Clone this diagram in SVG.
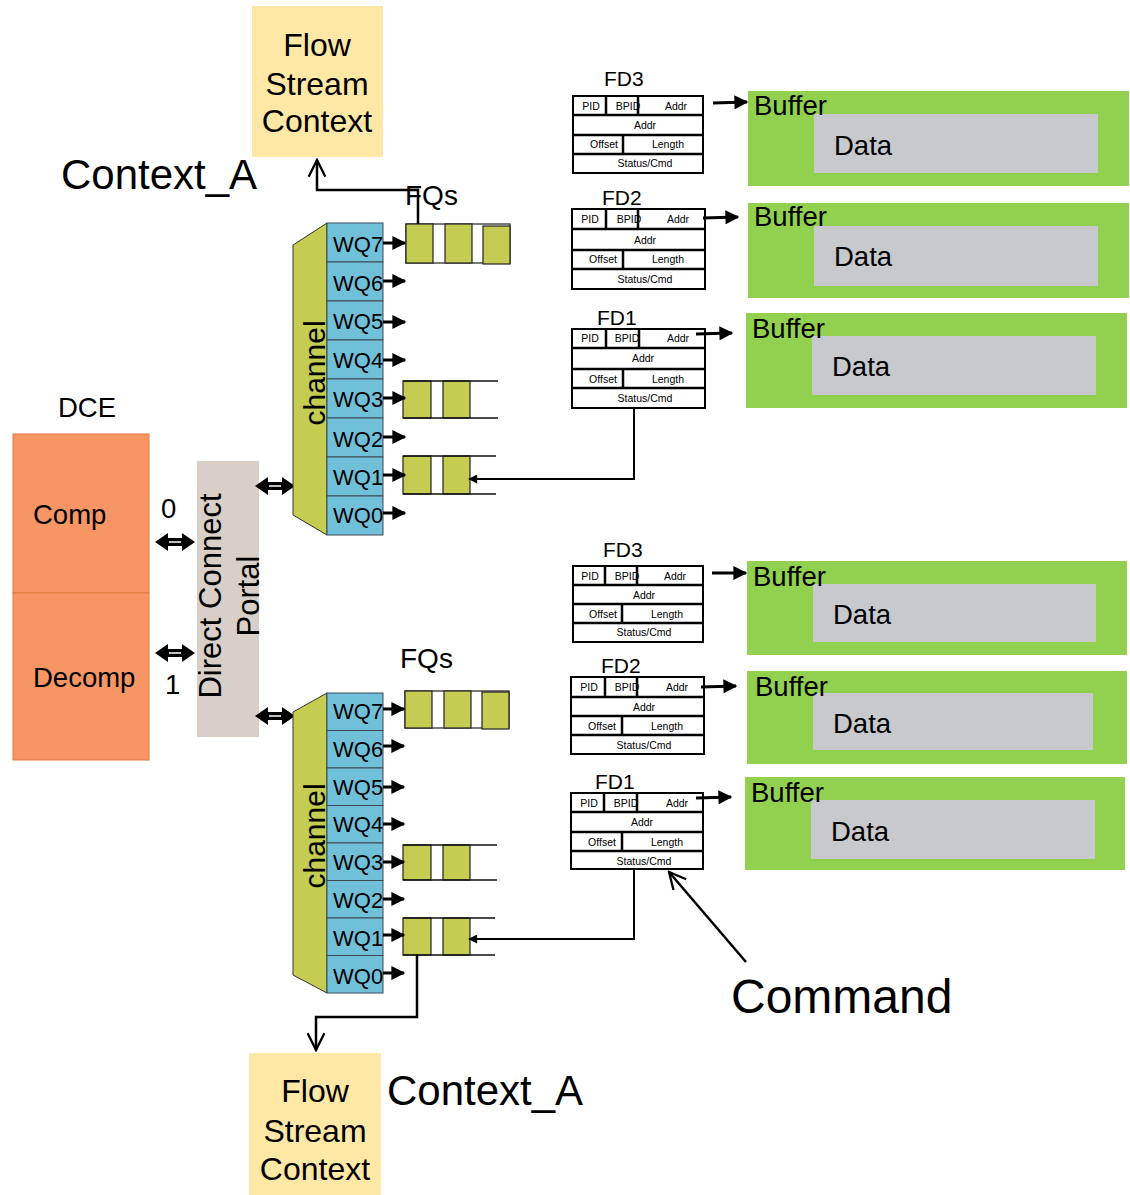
<svg xmlns="http://www.w3.org/2000/svg" width="1130" height="1195" viewBox="0 0 1130 1195">
<defs>
<style>
text{font-family:"Liberation Sans",Arial,sans-serif;fill:#000}
.ctx{fill:#FFE8A6}
.ctxt{font-size:32px;text-anchor:middle}
.big{font-size:42px}
.lbl{font-size:27.5px}
.wq{fill:#70C0DA;stroke:#3a4a55;stroke-width:1}
.wqt{font-size:22px}
.chan{fill:#C4CC52;stroke:#333;stroke-width:1}
.olive{fill:#C4CC52;stroke:#222;stroke-width:1.2}
.ql{fill:none;stroke:#111;stroke-width:1.5}
.tbl{fill:#fff;stroke:#000;stroke-width:2}
.div{stroke:#000;stroke-width:2.5}
.tt{font-size:10.5px;text-anchor:middle}
.fd{font-size:21px}
.buf{fill:#92D050}
.data{fill:#C8C9CD}
.line{fill:none;stroke:#000;stroke-width:3}
</style>
<marker id="ah" viewBox="0 0 10 10" refX="9" refY="5" markerWidth="15" markerHeight="14" markerUnits="userSpaceOnUse" orient="auto">
<path d="M0,0 L10,5 L0,10 z" fill="#000"/>
</marker>
<marker id="ahs" viewBox="0 0 10 10" refX="9" refY="5" markerWidth="12" markerHeight="9" markerUnits="userSpaceOnUse" orient="auto">
<path d="M0,0 L10,5 L0,10 z" fill="#000"/>
</marker>
<marker id="open" viewBox="0 0 12 12" refX="11" refY="6" markerWidth="20" markerHeight="20" markerUnits="userSpaceOnUse" orient="auto">
<path d="M1,1 L11,6 L1,11" fill="none" stroke="#000" stroke-width="1.4"/>
</marker>
<g id="dbl">
<path d="M0,0 L13,-9 L13,-4 L27,-4 L27,-9 L40,0 L27,9 L27,4 L13,4 L13,9 z" fill="#000"/>
<line x1="14" y1="0" x2="26" y2="0" stroke="#fff" stroke-width="1.5"/>
</g>
</defs>

<!-- Top Flow Stream Context -->
<g id="ctx-top">
<rect class="ctx" x="252" y="6" width="131" height="151"/>
<text class="ctxt" x="317" y="56">Flow</text>
<text class="ctxt" x="317" y="95">Stream</text>
<text class="ctxt" x="317" y="132">Context</text>
</g>
<text class="big" x="61" y="189">Context_A</text>

<!-- Bottom Flow Stream Context -->
<g id="ctx-bot">
<rect class="ctx" x="249" y="1053" width="132" height="142"/>
<text class="ctxt" x="315" y="1102">Flow</text>
<text class="ctxt" x="315" y="1142">Stream</text>
<text class="ctxt" x="315" y="1180">Context</text>
</g>
<text class="big" x="387" y="1105">Context_A</text>

<!-- DCE -->
<g id="dce">
<text class="lbl" x="58" y="417">DCE</text>
<rect x="13" y="434" width="136" height="159" fill="#F79664" stroke="#E07A40" stroke-width="1"/>
<rect x="13" y="593" width="136" height="167" fill="#F79664" stroke="#E07A40" stroke-width="1"/>
<text class="lbl" x="33" y="524">Comp</text>
<text class="lbl" x="33" y="687">Decomp</text>
</g>
<text class="lbl" x="161" y="518">0</text>
<text class="lbl" x="165" y="694">1</text>

<!-- Portal -->
<g id="portal">
<rect x="197" y="461" width="62" height="276" fill="#D8D0C8"/>
<text text-anchor="middle" transform="translate(221,596) rotate(-90)" style="font-size:31px">Direct Connect</text>
<text text-anchor="middle" transform="translate(259,596) rotate(-90)" style="font-size:31px">Portal</text>
</g>

<!-- double arrows -->
<g id="dblarrows">
<use href="#dbl" x="155" y="542"/>
<use href="#dbl" x="155" y="653"/>
<use href="#dbl" x="255" y="486"/>
<use href="#dbl" x="255" y="716"/>
</g>

<!-- Top channel -->
<g id="channel-top">
<polygon class="chan" points="293,245 327,223 327,535 293,515"/>
<text style="font-size:30px" text-anchor="middle" transform="translate(325,373) rotate(-90)">channel</text>
<rect class="wq" x="327" y="223" width="56" height="39"/>
<rect class="wq" x="327" y="262" width="56" height="39"/>
<rect class="wq" x="327" y="301" width="56" height="39"/>
<rect class="wq" x="327" y="340" width="56" height="39"/>
<rect class="wq" x="327" y="379" width="56" height="39"/>
<rect class="wq" x="327" y="418" width="56" height="39"/>
<rect class="wq" x="327" y="457" width="56" height="39"/>
<rect class="wq" x="327" y="496" width="56" height="39"/>
<text class="wqt" x="333" y="252">WQ7</text>
<text class="wqt" x="333" y="291">WQ6</text>
<text class="wqt" x="333" y="329">WQ5</text>
<text class="wqt" x="333" y="368">WQ4</text>
<text class="wqt" x="333" y="407">WQ3</text>
<text class="wqt" x="333" y="447">WQ2</text>
<text class="wqt" x="333" y="485">WQ1</text>
<text class="wqt" x="333" y="523">WQ0</text>
</g>

<!-- Bottom channel -->
<g id="channel-bot">
<polygon class="chan" points="293,712 327,693 327,993 293,975"/>
<text style="font-size:30px" text-anchor="middle" transform="translate(325,836) rotate(-90)">channel</text>
<rect class="wq" x="327" y="693" width="56" height="37.5"/>
<rect class="wq" x="327" y="730.5" width="56" height="37.5"/>
<rect class="wq" x="327" y="768" width="56" height="37.5"/>
<rect class="wq" x="327" y="805.5" width="56" height="37.5"/>
<rect class="wq" x="327" y="843" width="56" height="37.5"/>
<rect class="wq" x="327" y="880.5" width="56" height="37.5"/>
<rect class="wq" x="327" y="918" width="56" height="37.5"/>
<rect class="wq" x="327" y="955.5" width="56" height="37.5"/>
<text class="wqt" x="333" y="719">WQ7</text>
<text class="wqt" x="333" y="757">WQ6</text>
<text class="wqt" x="333" y="795">WQ5</text>
<text class="wqt" x="333" y="832">WQ4</text>
<text class="wqt" x="333" y="870">WQ3</text>
<text class="wqt" x="333" y="908">WQ2</text>
<text class="wqt" x="333" y="946">WQ1</text>
<text class="wqt" x="333" y="984">WQ0</text>
</g>

<text class="lbl" x="405" y="205" style="font-size:28px">FQs</text>
<text class="lbl" x="400" y="668" style="font-size:28px">FQs</text>

<!-- Frame queues top -->
<g id="fq-top7">
<rect x="406" y="224" width="104" height="39" fill="#fff" stroke="#222" stroke-width="1.2"/>
<rect class="olive" x="406" y="224" width="27" height="39"/>
<rect class="olive" x="445" y="224" width="27" height="39"/>
<rect class="olive" x="483" y="226" width="27" height="38"/>
</g>
<g id="fq-top3">
<rect class="olive" x="403" y="381" width="28" height="37"/>
<rect class="olive" x="443" y="381" width="27" height="37"/>
<path class="ql" d="M403,381 H498 M403,418 H498"/>
</g>
<g id="fq-top1">
<rect class="olive" x="403" y="456" width="28" height="38"/>
<rect class="olive" x="443" y="456" width="27" height="38"/>
<path class="ql" d="M403,456 H496 M403,494 H496"/>
</g>

<!-- Frame queues bottom -->
<g id="fq-bot7">
<rect x="405" y="691" width="104" height="37" fill="#fff" stroke="#222" stroke-width="1.2"/>
<rect class="olive" x="405" y="691" width="27" height="37"/>
<rect class="olive" x="444" y="691" width="27" height="37"/>
<rect class="olive" x="482" y="692" width="27" height="37"/>
</g>
<g id="fq-bot3">
<rect class="olive" x="403" y="845" width="28" height="35"/>
<rect class="olive" x="443" y="845" width="27" height="35"/>
<path class="ql" d="M403,845 H497 M403,880 H497"/>
</g>
<g id="fq-bot1">
<rect class="olive" x="403" y="918" width="28" height="37"/>
<rect class="olive" x="443" y="918" width="27" height="37"/>
<path class="ql" d="M403,918 H495 M403,955 H495"/>
</g>

<!-- FD tables and buffers (top) -->
<g id="fd3-top">
<text class="fd" x="604" y="86">FD3</text>
<rect class="tbl" x="573" y="96" width="130" height="77"/>
<path class="div" d="M573,115 H703 M573,135 H703 M573,154 H703 M606,96 V115 M638,96 V115 M623,135 V154"/>
<text class="tt" x="591" y="110">PID</text><text class="tt" x="628" y="110">BPID</text><text class="tt" x="676" y="110">Addr</text>
<text class="tt" x="645" y="129">Addr</text>
<text class="tt" x="604" y="148">Offset</text><text class="tt" x="668" y="148">Length</text>
<text class="tt" x="645" y="167">Status/Cmd</text>
</g>
<g id="buf3-top">
<rect class="buf" x="748" y="91" width="381" height="95"/>
<rect class="data" x="814" y="114" width="284" height="59"/>
<text class="lbl" x="754" y="115">Buffer</text>
<text class="lbl" x="834" y="155">Data</text>
</g>
<g id="fd2-top">
<text class="fd" x="602" y="205">FD2</text>
<rect class="tbl" x="572" y="209" width="133" height="80"/>
<path class="div" d="M572,229 H705 M572,250 H705 M572,269 H705 M606,209 V229 M638,209 V229 M623,250 V269"/>
<text class="tt" x="590" y="223">PID</text><text class="tt" x="629" y="223">BPID</text><text class="tt" x="678" y="223">Addr</text>
<text class="tt" x="645" y="244">Addr</text>
<text class="tt" x="603" y="263">Offset</text><text class="tt" x="668" y="263">Length</text>
<text class="tt" x="645" y="283">Status/Cmd</text>
</g>
<g id="buf2-top">
<rect class="buf" x="748" y="203" width="381" height="95"/>
<rect class="data" x="814" y="226" width="284" height="60"/>
<text class="lbl" x="754" y="226">Buffer</text>
<text class="lbl" x="834" y="266">Data</text>
</g>
<g id="fd1-top">
<text class="fd" x="597" y="325">FD1</text>
<rect class="tbl" x="572" y="329" width="133" height="79"/>
<path class="div" d="M572,348 H705 M572,369 H705 M572,388 H705 M606,329 V348 M639,329 V348 M623,369 V388"/>
<text class="tt" x="590" y="342">PID</text><text class="tt" x="627" y="342">BPID</text><text class="tt" x="678" y="342">Addr</text>
<text class="tt" x="643" y="362">Addr</text>
<text class="tt" x="603" y="383">Offset</text><text class="tt" x="668" y="383">Length</text>
<text class="tt" x="645" y="402">Status/Cmd</text>
</g>
<g id="buf1-top">
<rect class="buf" x="746" y="313" width="381" height="95"/>
<rect class="data" x="812" y="336" width="284" height="59"/>
<text class="lbl" x="752" y="338">Buffer</text>
<text class="lbl" x="832" y="376">Data</text>
</g>

<!-- FD tables and buffers (bottom) -->
<g id="fd3-bot">
<text class="fd" x="603" y="557">FD3</text>
<rect class="tbl" x="573" y="566" width="130" height="76"/>
<path class="div" d="M573,585 H703 M573,604 H703 M573,623 H703 M605,566 V585 M637,566 V585 M622,604 V623"/>
<text class="tt" x="590" y="580">PID</text><text class="tt" x="627" y="580">BPID</text><text class="tt" x="675" y="580">Addr</text>
<text class="tt" x="644" y="599">Addr</text>
<text class="tt" x="603" y="618">Offset</text><text class="tt" x="667" y="618">Length</text>
<text class="tt" x="644" y="636">Status/Cmd</text>
</g>
<g id="buf3-bot">
<rect class="buf" x="747" y="561" width="380" height="94"/>
<rect class="data" x="813" y="584" width="283" height="58"/>
<text class="lbl" x="753" y="586">Buffer</text>
<text class="lbl" x="833" y="624">Data</text>
</g>
<g id="fd2-bot">
<text class="fd" x="601" y="673">FD2</text>
<rect class="tbl" x="571" y="677" width="133" height="77"/>
<path class="div" d="M571,697 H704 M571,716 H704 M571,735 H704 M605,677 V697 M637,677 V697 M622,716 V735"/>
<text class="tt" x="589" y="691">PID</text><text class="tt" x="627" y="691">BPID</text><text class="tt" x="677" y="691">Addr</text>
<text class="tt" x="644" y="711">Addr</text>
<text class="tt" x="602" y="730">Offset</text><text class="tt" x="667" y="730">Length</text>
<text class="tt" x="644" y="749">Status/Cmd</text>
</g>
<g id="buf2-bot">
<rect class="buf" x="747" y="671" width="380" height="93"/>
<rect class="data" x="813" y="693" width="280" height="57"/>
<text class="lbl" x="755" y="696">Buffer</text>
<text class="lbl" x="833" y="733">Data</text>
</g>
<g id="fd1-bot">
<text class="fd" x="595" y="789">FD1</text>
<rect class="tbl" x="571" y="793" width="132" height="76"/>
<path class="div" d="M571,812 H703 M571,832 H703 M571,851 H703 M604,793 V812 M637,793 V812 M622,832 V851"/>
<text class="tt" x="589" y="807">PID</text><text class="tt" x="626" y="807">BPID</text><text class="tt" x="677" y="807">Addr</text>
<text class="tt" x="642" y="826">Addr</text>
<text class="tt" x="602" y="846">Offset</text><text class="tt" x="667" y="846">Length</text>
<text class="tt" x="644" y="865">Status/Cmd</text>
</g>
<g id="buf1-bot">
<rect class="buf" x="745" y="777" width="380" height="93"/>
<rect class="data" x="811" y="800" width="284" height="59"/>
<text class="lbl" x="751" y="802">Buffer</text>
<text class="lbl" x="831" y="841">Data</text>
</g>

<text x="731" y="1013" style="font-size:48px">Command</text>

<!-- Connectors -->
<g id="connectors">
<line class="line" x1="383" y1="243" x2="405" y2="243" marker-end="url(#ah)"/>
<line class="line" x1="383" y1="281" x2="405" y2="281" marker-end="url(#ah)"/>
<line class="line" x1="383" y1="322" x2="405" y2="322" marker-end="url(#ah)"/>
<line class="line" x1="383" y1="360" x2="405" y2="360" marker-end="url(#ah)"/>
<line class="line" x1="383" y1="398" x2="405" y2="398" marker-end="url(#ah)"/>
<line class="line" x1="383" y1="437" x2="405" y2="437" marker-end="url(#ah)"/>
<line class="line" x1="383" y1="475" x2="405" y2="475" marker-end="url(#ah)"/>
<line class="line" x1="383" y1="513" x2="405" y2="513" marker-end="url(#ah)"/>
<line class="line" x1="383" y1="709" x2="404" y2="709" marker-end="url(#ah)"/>
<line class="line" x1="383" y1="746" x2="404" y2="746" marker-end="url(#ah)"/>
<line class="line" x1="383" y1="787" x2="404" y2="787" marker-end="url(#ah)"/>
<line class="line" x1="383" y1="824" x2="404" y2="824" marker-end="url(#ah)"/>
<line class="line" x1="383" y1="862" x2="404" y2="862" marker-end="url(#ah)"/>
<line class="line" x1="383" y1="899" x2="404" y2="899" marker-end="url(#ah)"/>
<line class="line" x1="383" y1="935" x2="404" y2="935" marker-end="url(#ah)"/>
<line class="line" x1="383" y1="973" x2="404" y2="973" marker-end="url(#ah)"/>
<line class="line" x1="713" y1="103" x2="747" y2="102" marker-end="url(#ah)"/>
<line class="line" x1="703" y1="218" x2="738" y2="217" marker-end="url(#ah)"/>
<line class="line" x1="696" y1="334" x2="732" y2="333" marker-end="url(#ah)"/>
<line class="line" x1="712" y1="573" x2="746" y2="573" marker-end="url(#ah)"/>
<line class="line" x1="701" y1="687" x2="736" y2="686" marker-end="url(#ah)"/>
<line class="line" x1="696" y1="798" x2="731" y2="797" marker-end="url(#ah)"/>
<polyline fill="none" stroke="#000" stroke-width="2" points="634,408 634,479 469,479" marker-end="url(#ahs)"/>
<polyline fill="none" stroke="#000" stroke-width="2" points="634,869 634,939 469,939" marker-end="url(#ahs)"/>
<polyline fill="none" stroke="#000" stroke-width="2.5" points="418,224 418,190 317,190 317,160" marker-end="url(#open)"/>
<polyline fill="none" stroke="#000" stroke-width="2.5" points="417,955 417,1017 316,1017 316,1050" marker-end="url(#open)"/>
<line x1="746" y1="962" x2="669" y2="872" stroke="#000" stroke-width="2.5" marker-end="url(#open)"/>
</g>
</svg>
